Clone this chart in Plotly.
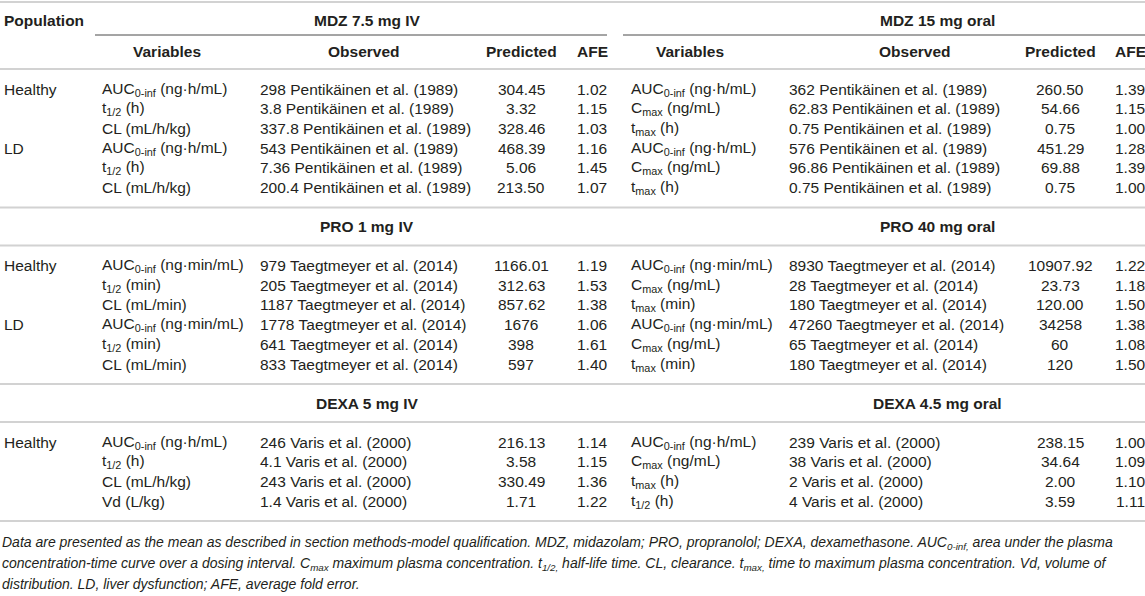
import plotly.graph_objects as go

# Daten der Tabelle
sections = ['MDZ', 'PRO', 'DEXA']
titles_iv = ['MDZ 7.5 mg IV', 'PRO 1 mg IV', 'DEXA 5 mg IV']
titles_oral = ['MDZ 15 mg oral', 'PRO 40 mg oral', 'DEXA 4.5 mg oral']

populations = [
    ['Healthy', '', '', 'LD', '', ''],
    ['Healthy', '', '', 'LD', '', ''],
    ['Healthy', '', '', ''],
]

var_iv = [
    ['AUC<sub>0-inf</sub> (ng·h/mL)', 't<sub>1/2</sub> (h)', 'CL (mL/h/kg)',
     'AUC<sub>0-inf</sub> (ng·h/mL)', 't<sub>1/2</sub> (h)', 'CL (mL/h/kg)'],
    ['AUC<sub>0-inf</sub> (ng·min/mL)', 't<sub>1/2</sub> (min)', 'CL (mL/min)',
     'AUC<sub>0-inf</sub> (ng·min/mL)', 't<sub>1/2</sub> (min)', 'CL (mL/min)'],
    ['AUC<sub>0-inf</sub> (ng·h/mL)', 't<sub>1/2</sub> (h)', 'CL (mL/h/kg)', 'Vd (L/kg)'],
]
obs_iv = [
    ['298 Pentikäinen et al. (1989)', '3.8 Pentikäinen et al. (1989)', '337.8 Pentikäinen et al. (1989)',
     '543 Pentikäinen et al. (1989)', '7.36 Pentikäinen et al. (1989)', '200.4 Pentikäinen et al. (1989)'],
    ['979 Taegtmeyer et al. (2014)', '205 Taegtmeyer et al. (2014)', '1187 Taegtmeyer et al. (2014)',
     '1778 Taegtmeyer et al. (2014)', '641 Taegtmeyer et al. (2014)', '833 Taegtmeyer et al. (2014)'],
    ['246 Varis et al. (2000)', '4.1 Varis et al. (2000)', '243 Varis et al. (2000)', '1.4 Varis et al. (2000)'],
]
pred_iv = [
    ['304.45', '3.32', '328.46', '468.39', '5.06', '213.50'],
    ['1166.01', '312.63', '857.62', '1676', '398', '597'],
    ['216.13', '3.58', '330.49', '1.71'],
]
afe_iv = [
    ['1.02', '1.15', '1.03', '1.16', '1.45', '1.07'],
    ['1.19', '1.53', '1.38', '1.06', '1.61', '1.40'],
    ['1.14', '1.15', '1.36', '1.22'],
]

var_oral = [
    ['AUC<sub>0-inf</sub> (ng·h/mL)', 'C<sub>max</sub> (ng/mL)', 't<sub>max</sub> (h)',
     'AUC<sub>0-inf</sub> (ng·h/mL)', 'C<sub>max</sub> (ng/mL)', 't<sub>max</sub> (h)'],
    ['AUC<sub>0-inf</sub> (ng·min/mL)', 'C<sub>max</sub> (ng/mL)', 't<sub>max</sub> (min)',
     'AUC<sub>0-inf</sub> (ng·min/mL)', 'C<sub>max</sub> (ng/mL)', 't<sub>max</sub> (min)'],
    ['AUC<sub>0-inf</sub> (ng·h/mL)', 'C<sub>max</sub> (ng/mL)', 't<sub>max</sub> (h)', 't<sub>1/2</sub> (h)'],
]
obs_oral = [
    ['362 Pentikäinen et al. (1989)', '62.83 Pentikäinen et al. (1989)', '0.75 Pentikäinen et al. (1989)',
     '576 Pentikäinen et al. (1989)', '96.86 Pentikäinen et al. (1989)', '0.75 Pentikäinen et al. (1989)'],
    ['8930 Taegtmeyer et al. (2014)', '28 Taegtmeyer et al. (2014)', '180 Taegtmeyer et al. (2014)',
     '47260 Taegtmeyer et al. (2014)', '65 Taegtmeyer et al. (2014)', '180 Taegtmeyer et al. (2014)'],
    ['239 Varis et al. (2000)', '38 Varis et al. (2000)', '2 Varis et al. (2000)', '4 Varis et al. (2000)'],
]
pred_oral = [
    ['260.50', '54.66', '0.75', '451.29', '69.88', '0.75'],
    ['10907.92', '23.73', '120.00', '34258', '60', '120'],
    ['238.15', '34.64', '2.00', '3.59'],
]
afe_oral = [
    ['1.39', '1.15', '1.00', '1.28', '1.39', '1.00'],
    ['1.22', '1.18', '1.50', '1.38', '1.08', '1.50'],
    ['1.00', '1.09', '1.10', '1.11'],
]

col_headers = ['Variables', 'Observed', 'Predicted', 'AFE']

footnote = [
    'Data are presented as the mean as described in section methods-model qualification. MDZ, midazolam; PRO, propranolol; DEXA, dexamethasone. AUC<sub>0-inf,</sub> area under the plasma',
    'concentration-time curve over a dosing interval. C<sub>max</sub> maximum plasma concentration. t<sub>1/2,</sub> half-life time. CL, clearance. t<sub>max,</sub> time to maximum plasma concentration. Vd, volume of',
    'distribution. LD, liver dysfunction; AFE, average fold error.',
]

# Layout (Pixel)
W, H = 1145, 596
FONT = 'Liberation Sans, Arial, sans-serif'
TXT = '#231f20'
GREY = '#d2d2d2'
ROW = 19.7    # Zeilenabstand
PAD = 20      # Abstand Linie -> erste/letzte Zeile
TITLE = 19    # Abstand Titelzeile

x_pop = 2
x_var = [100, 629]
x_obs = [258, 787]
x_pred = [521, 1060]
x_afe = [592, 1130]
x_head_var = [167, 690]
x_head_obs = [364, 915]
x_title = [367, 937]
x_group = [[95, 607], [623, 1145]]

fig = go.Figure()
fig.add_trace(go.Scatter(x=[0, W], y=[0, H], mode='markers', marker=dict(opacity=0), hoverinfo='skip'))


def txt(x, y, s, anchor='left', bold=False, size=15.5, italic=False):
    if bold:
        s = '<b>' + s + '</b>'
    if italic:
        s = '<i>' + s + '</i>'
    fig.add_annotation(x=x, y=y, text=s, showarrow=False, xanchor=anchor, yanchor='middle',
                       font=dict(family=FONT, size=size, color=TXT), xref='x', yref='y')


def hline(y, x0=0, x1=W, color=GREY, width=2):
    fig.add_shape(type='line', x0=x0, x1=x1, y0=y, y1=y, xref='x', yref='y',
                  line=dict(color=color, width=width))


# Kopfzeilen
hline(2)
txt(x_pop, 20, 'Population', bold=True)
for side, title in enumerate([titles_iv[0], titles_oral[0]]):
    txt(x_title[side], 20, title, anchor='center', bold=True)
    hline(35, x_group[side][0], x_group[side][1], color='#4a4a4a', width=1)
    txt(x_head_var[side], 51, col_headers[0], anchor='center', bold=True)
    txt(x_head_obs[side], 51, col_headers[1], anchor='center', bold=True)
    txt(x_pred[side], 51, col_headers[2], anchor='center', bold=True)
    txt(x_afe[side], 51, col_headers[3], anchor='center', bold=True)
y = 69
hline(y)

# Abschnitte
for i, sec in enumerate(sections):
    if i > 0:
        txt(x_title[0], y + TITLE, titles_iv[i], anchor='center', bold=True)
        txt(x_title[1], y + TITLE, titles_oral[i], anchor='center', bold=True)
        y += 2 * TITLE
        hline(y)
    y += PAD
    for r in range(len(populations[i])):
        txt(x_pop, y, populations[i][r])
        txt(x_var[0], y, var_iv[i][r])
        txt(x_obs[0], y, obs_iv[i][r])
        txt(x_pred[0], y, pred_iv[i][r], anchor='center')
        txt(x_afe[0], y, afe_iv[i][r], anchor='center')
        txt(x_var[1], y, var_oral[i][r])
        txt(x_obs[1], y, obs_oral[i][r])
        txt(x_pred[1], y, pred_oral[i][r], anchor='center')
        txt(x_afe[1], y, afe_oral[i][r], anchor='center')
        y += ROW
    y = y - ROW + PAD
    hline(y)

# Fußnote
for k, line in enumerate(footnote):
    txt(0, y + 22 + k * 20.5, line, size=14, italic=True)

fig.update_xaxes(range=[0, W], visible=False, fixedrange=True)
fig.update_yaxes(range=[H, 0], visible=False, fixedrange=True)
fig.update_layout(width=W, height=H, margin=dict(l=0, r=0, t=0, b=0),
                  plot_bgcolor='white', paper_bgcolor='white', showlegend=False)

# Browser-Rand entfernen, damit die Tabelle bei 0,0 beginnt
fig.write_html('out.html', config={'displayModeBar': False},
               post_script="document.body.style.margin='0px';")
